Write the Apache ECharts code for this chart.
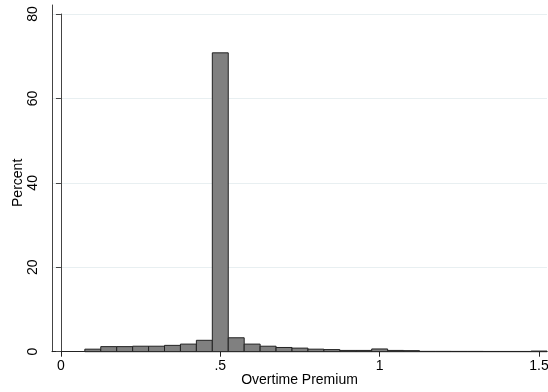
<!DOCTYPE html>
<html>
<head>
<meta charset="utf-8">
<script src="https://cdn.jsdelivr.net/npm/echarts@6/dist/echarts.min.js"></script>
<style>html,body{margin:0;padding:0;background:#fff}#c{width:548px;height:392px}</style>
</head>
<body>
<div id="c"></div>
<script>
// Histogram bins (bin centers, width 0.05) and percent heights
const binWidth = 0.05;
const binCenters = [0.10,0.15,0.20,0.25,0.30,0.35,0.40,0.45,0.50,0.55,0.60,0.65,0.70,0.75,0.80,0.85,0.90,0.95,1.00,1.05,1.10,1.15,1.20,1.25,1.30,1.35,1.40,1.45,1.50];
const percent    = [0.6,1.2,1.2,1.3,1.3,1.5,1.8,2.7,70.8,3.3,1.8,1.3,1.0,0.85,0.6,0.5,0.3,0.3,0.65,0.3,0.25,0.08,0.08,0.07,0.07,0.06,0.06,0.06,0.15];
const xTicks = [0, 0.5, 1, 1.5];
const yTicks = [0, 20, 40, 60, 80];

const chart = echarts.init(document.getElementById('c'), null, {renderer: 'canvas'});
const font = 'Liberation Sans, Arial, Helvetica, sans-serif';
const fmtX = v => { const s = String(+v.toFixed(2)); return s.startsWith('0.') ? s.slice(1) : s; };

chart.setOption({
  backgroundColor: '#ffffff',
  animation: false,
  grid: [
    {left: 52, right: 1, top: 14, bottom: 40.3, containLabel: false, outerBoundsMode: 'none'},
    {left: 52, right: 1, top: 5, bottom: 40.3, containLabel: false, outerBoundsMode: 'none'}
  ],
  xAxis: [{
    type: 'value', gridIndex: 0, min: -0.028, max: 1.525,
    name: 'Overtime Premium', nameLocation: 'middle', nameGap: 21, nameMoveOverlap: false,
    nameTextStyle: {fontFamily: font, fontSize: 14, color: '#000', verticalAlign: 'top'},
    axisLine: {show: true, lineStyle: {color: '#222', width: 1}},
    axisTick: {show: true, length: 5, customValues: xTicks, lineStyle: {color: '#222'}},
    axisLabel: {customValues: xTicks, formatter: fmtX, fontFamily: font, fontSize: 14, color: '#000', margin: 7},
    splitLine: {show: false}
  }, {
    type: 'value', gridIndex: 1, min: 0, max: 1, show: false
  }],
  yAxis: [{
    type: 'value', gridIndex: 0, min: 0, max: 80,
    name: 'Percent', nameLocation: 'middle', nameGap: 27, nameMoveOverlap: false,
    nameTextStyle: {fontFamily: font, fontSize: 14, color: '#000'},
    axisLine: {show: true, lineStyle: {color: '#444', width: 1}},
    axisTick: {show: true, length: 5, customValues: yTicks, lineStyle: {color: '#444'}},
    axisLabel: {customValues: yTicks, rotate: 90, fontFamily: font, fontSize: 14, color: '#000', margin: 12},
    splitLine: {show: true, lineStyle: {color: '#e8eff1', width: 1}}
  }, {
    type: 'value', gridIndex: 1, min: 0, max: 1,
    axisLine: {show: true, lineStyle: {color: '#444', width: 1}},
    axisTick: {show: false}, axisLabel: {show: false}, splitLine: {show: false}
  }],
  series: [{
    type: 'custom',
    xAxisIndex: 0, yAxisIndex: 0,
    data: binCenters.map((c, i) => [c, percent[i]]),
    renderItem: function (params, api) {
      const c = api.value(0), v = api.value(1);
      const p0 = api.coord([c - binWidth / 2, 0]);
      const p1 = api.coord([c + binWidth / 2, v]);
      return {
        type: 'rect',
        shape: {x: p0[0], y: p1[1], width: p1[0] - p0[0], height: p0[1] - p1[1]},
        style: {fill: '#808080', stroke: '#222', lineWidth: 1}
      };
    },
    z: 3
  }]
});
</script>
</body>
</html>
